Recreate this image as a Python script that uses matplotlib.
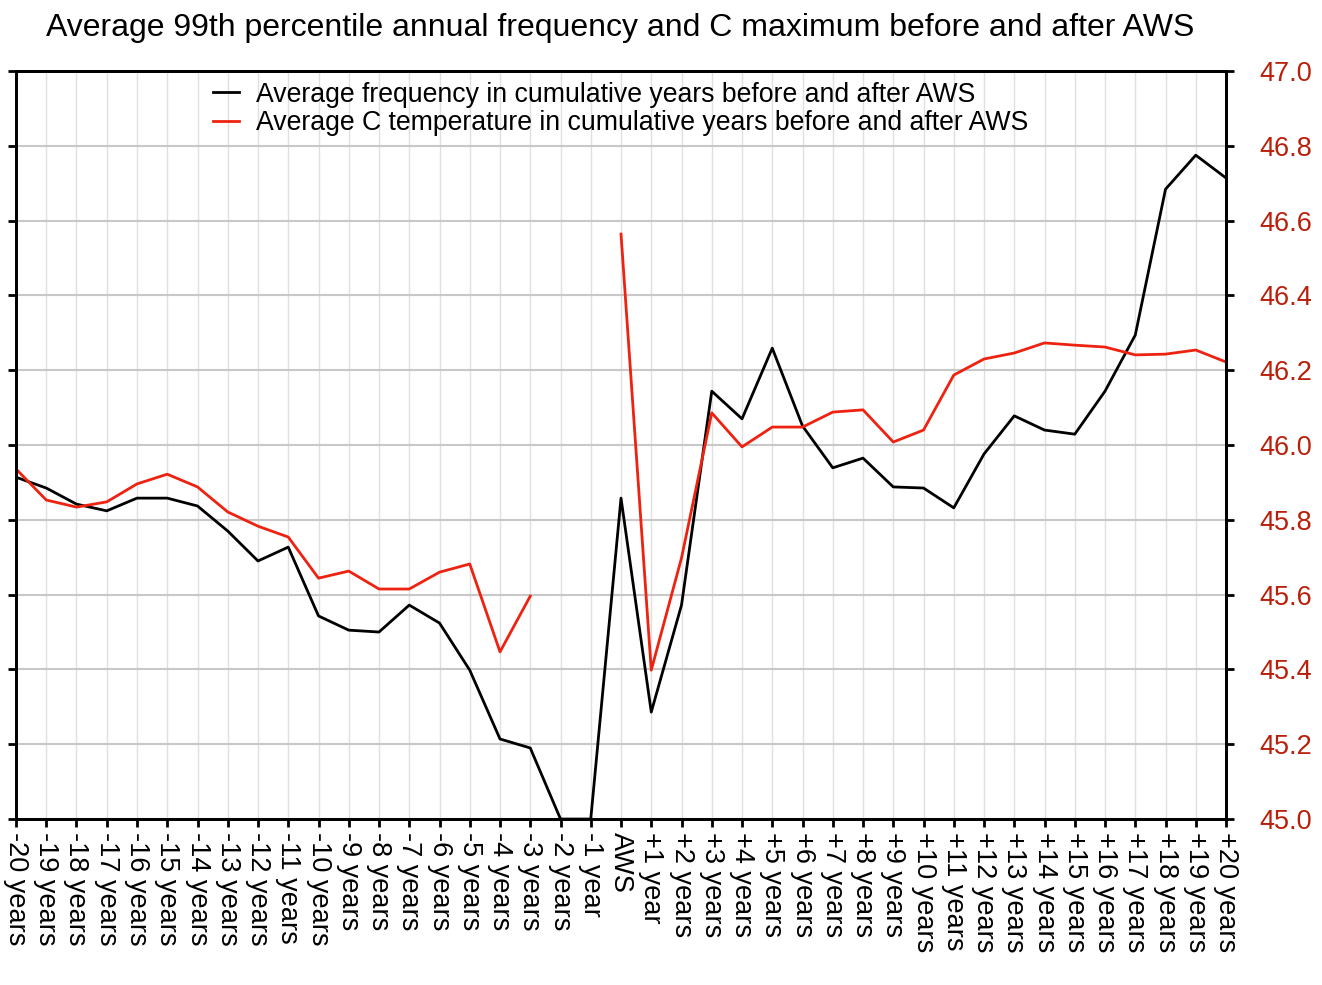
import numpy as np
import matplotlib
matplotlib.use("Agg")
import matplotlib.pyplot as plt

plt.rcParams['font.family'] = ['Liberation Sans', 'DejaVu Sans']

# x categories
labels = ["-%d years" % n for n in range(20, 1, -1)] + ["-1 year", "AWS", "+1 year"] + \
         ["+%d years" % n for n in range(2, 21)]

# average frequency (drawn on the hidden left axis, same 45-47 span)
freq = [45.914, 45.885, 45.842, 45.824, 45.858, 45.858, 45.837, 45.770, 45.690, 45.727,
        45.543, 45.505, 45.500, 45.572, 45.524, 45.398, 45.214, 45.190, 45.0, 45.0,
        45.858,
        45.286, 45.572, 46.144, 46.070, 46.259, 46.051, 45.939, 45.965, 45.888, 45.885,
        45.832, 45.976, 46.078, 46.040, 46.029, 46.144, 46.294, 46.684, 46.775, 46.714]

# average C temperature (right axis), -2 and -1 years missing
temp = [45.936, 45.853, 45.834, 45.848, 45.896, 45.922, 45.888, 45.821, 45.783, 45.754,
        45.644, 45.663, 45.615, 45.615, 45.660, 45.682, 45.447, 45.596, np.nan, np.nan,
        46.564,
        45.398, 45.698, 46.086, 45.995, 46.048, 46.048, 46.088, 46.094, 46.008, 46.040,
        46.187, 46.230, 46.246, 46.273, 46.267, 46.262, 46.241, 46.243, 46.254, 46.222]

x = np.arange(len(labels))
red_line = "#ee2211"
red_text = "#b8200c"

fig = plt.figure(figsize=(13.22, 9.85), dpi=100)
ax = fig.add_axes([0.0121, 0.1685, 0.9153, 0.7594])
ax2 = ax.twinx()

ax.plot(x, freq, color="black", lw=2, label="Average frequency in cumulative years before and after AWS")
ax2.plot(x, temp, color=red_line, lw=2, label="Average C temperature in cumulative years before and after AWS")

ax.set_xlim(0, len(labels) - 1)
ax.set_ylim(45.0, 47.0)
ax2.set_ylim(45.0, 47.0)
ticks = np.arange(45.0, 47.01, 0.2)
ax.set_yticks(ticks)
ax2.set_yticks(ticks)
ax.set_yticklabels([])
ax2.set_yticklabels(["%.1f" % t for t in ticks], color=red_text, fontsize=19.5)

ax.set_xticks(x)
ax.set_xticklabels(labels, rotation=-90, fontsize=19.5, va="top", ha="center")

ax.yaxis.grid(True, color="#c8c8c8", lw=1.5)
ax.xaxis.grid(True, color="#e0e0e0", lw=1)
ax.set_axisbelow(True)

for a in (ax, ax2):
    for s in a.spines.values():
        s.set_linewidth(2)
    a.tick_params(direction="out", length=6, width=2)
ax2.tick_params(axis="y", pad=18)

h1, l1 = ax.get_legend_handles_labels()
h2, l2 = ax2.get_legend_handles_labels()
ax2.legend(h1 + h2, l1 + l2, loc="upper center", frameon=False, fontsize=19.2,
           handlelength=0.95, handletextpad=0.67, labelspacing=0.1, borderaxespad=0.0,
           bbox_to_anchor=(0.5, 1.0))

fig.suptitle("Average 99th percentile annual frequency and C maximum before and after AWS",
             x=0.469, y=0.987, fontsize=23, va="top")

fig.savefig("out.png", dpi=100)
